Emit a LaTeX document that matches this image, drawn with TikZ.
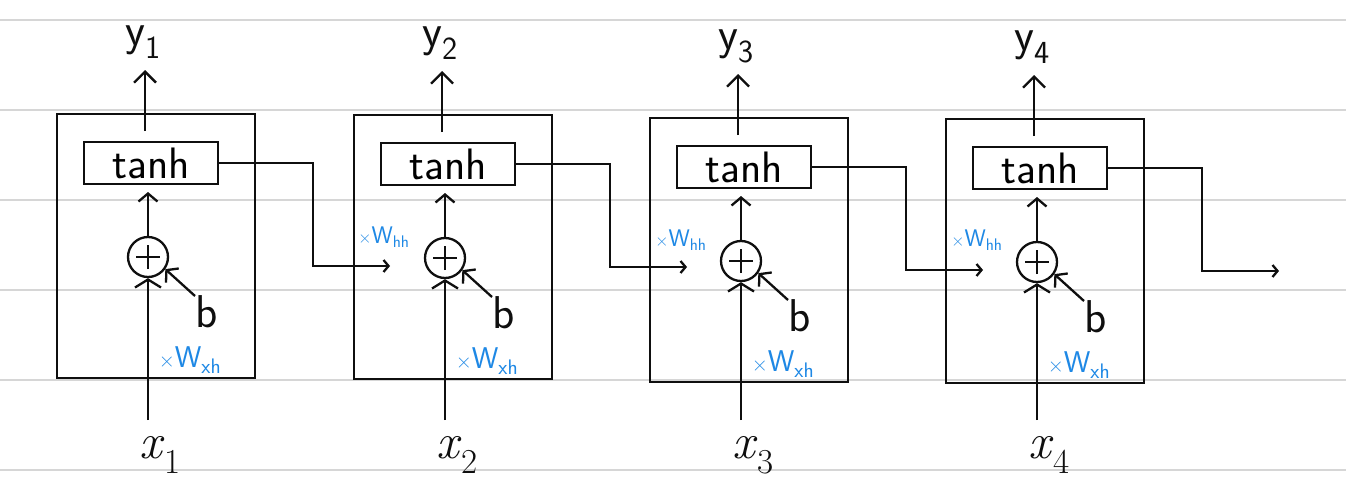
\documentclass[tikz,border=0pt]{standalone}
\usepackage{fontspec}
\usetikzlibrary{arrows.meta}
\definecolor{ink}{RGB}{15,15,15}
\definecolor{wblue}{RGB}{30,136,229}
\definecolor{rulegray}{RGB}{214,214,214}
\newcommand{\smx}[1]{{\fontsize{#1}{#1}\selectfont ×}}
\begin{document}
\begin{tikzpicture}[x=1pt,y=-1pt, line width=2.3pt, draw=ink,
  cellbox/.style={draw, minimum width=198pt, minimum height=264pt, inner sep=0pt},
  actbox/.style={draw, minimum width=134pt, minimum height=42pt, inner sep=0pt, font=\sffamily\fontsize{44}{44}\selectfont},
  sumnode/.style={draw, circle, minimum size=40pt, inner sep=0pt},
  lbl/.style={font=\sffamily\fontsize{46}{46}\selectfont, inner sep=0pt, text=ink},
  xlbl/.style={font=\fontsize{50}{50}\selectfont, inner sep=0pt, text=ink},
  wlbl/.style={text=wblue, font=\sffamily\fontsize{30}{30}\selectfont, inner sep=0pt},
  whlbl/.style={text=wblue, font=\sffamily\fontsize{24}{24}\selectfont, inner sep=0pt},
  bigtip/.style={-{Straight Barb[length=11pt,width=22pt]}},
  midtip/.style={-{Straight Barb[length=8pt,width=19pt]}},
  flattip/.style={-{Straight Barb[length=8pt,width=26pt]}},
  smalltip/.style={-{Straight Barb[length=5pt,width=12pt]}},
  ruleline/.style={draw=rulegray, line width=2.8pt}
]
\useasboundingbox (0,0) rectangle (1346,479);
\fill[white] (0,0) rectangle (1346,479);
\foreach \ry in {20,110,200,290,380,470} {
  \draw[ruleline] (0,\ry) -- (1346,\ry);
}
\foreach \i/\dx/\dy in {1/0/0, 2/297/1, 3/593/4, 4/889/5} {
  \node[cellbox] (box\i) at (156+\dx, 246+\dy) {};
  \node[actbox] (t\i) at (151+\dx, 163+\dy) {tanh};
  \node[sumnode] (p\i) at (148+\dx, 257+\dy) {};
  \draw[line width=2.2pt] ([xshift=-12pt]p\i.center) -- ([xshift=12pt]p\i.center)
                         ([yshift=-12pt]p\i.center) -- ([yshift=12pt]p\i.center);
  \node[lbl] (yl\i) at (143+\dx, 42+\dy) {y\textsubscript{\i}};
  \node[xlbl] (xl\i) at (160+\dx, 455) {\textit{x}\textsubscript{\upshape\i}};
  \node[lbl] (bl\i) at (207+\dx, 312+\dy) {b};
  \node[wlbl] (wx\i) at (190+\dx, 360+\dy) {\smx{22}W\textsubscript{xh}};
  \coordinate (ys\i) at (145+\dx, 131+\dy);
  \coordinate (ye\i) at (145+\dx, 70+\dy);
  \coordinate (tb\i) at (148+\dx, 192+\dy);
  \coordinate (xs\i) at (148+\dx, 420);
  \coordinate (bs\i) at (195+\dx, 296+\dy);
  \coordinate (k\i) at (313+\dx, 266+\dy);
  \coordinate (e\i) at (390+\dx, 266+\dy);
  \draw[bigtip] (ys\i) -- (ye\i);
  \draw[midtip] (p\i.north) -- (tb\i);
  \draw[flattip] (xs\i) -- (p\i.south);
  \draw[midtip] (bs\i) -- (p\i.-35);
  \draw[smalltip] (t\i.east) -| (k\i) -- (e\i);
}
\node[whlbl] (wh2) at (384, 237) {\smx{18}W\textsubscript{hh}};
\node[whlbl] (wh3) at (681, 240) {\smx{18}W\textsubscript{hh}};
\node[whlbl] (wh4) at (977, 240) {\smx{18}W\textsubscript{hh}};
\end{tikzpicture}
\end{document}
